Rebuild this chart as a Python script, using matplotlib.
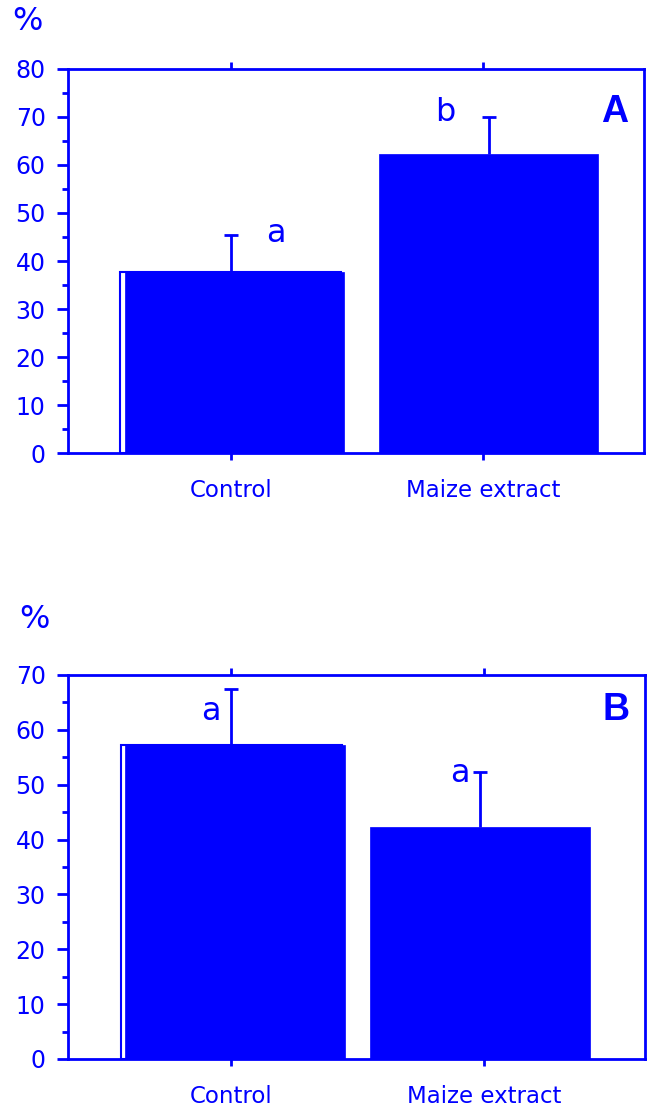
import numpy as np
import matplotlib
matplotlib.use("Agg")
import matplotlib.pyplot as plt
from matplotlib.ticker import MultipleLocator

BLUE = "#0000ff"

categories = ["Control", "Maize extract"]

# panel A
means_a = [37.7, 62.3]
errs_a = [7.7, 7.7]
letters_a = ["a", "b"]

# panel B
means_b = [57.2, 42.3]
errs_b = [10.2, 10.0]
letters_b = ["a", "a"]

fig = plt.figure(figsize=(6.47, 11.09), dpi=100)
plt.rcParams["font.family"] = "DejaVu Sans"

def panel(rect, means, errs, letters, ymax, tag, tag_y, shifts, letter_off):
    ax = fig.add_axes(rect)
    x = np.arange(len(means))
    xb = x + np.array(shifts)
    width = 0.872
    # hollow outline just behind the first bar
    ax.bar(x[0], means[0], 0.877, facecolor="white", edgecolor=BLUE,
           linewidth=1.5, zorder=2)
    ax.bar(xb, means, width, color=BLUE, edgecolor=BLUE, linewidth=0.5, zorder=3)
    ex = np.array([x[0], xb[1]])
    _, caps, _ = ax.errorbar(ex, means, yerr=[np.zeros(len(errs)), errs],
                             fmt="none", ecolor=BLUE, elinewidth=2, capsize=4.7,
                             capthick=2, zorder=4)
    # only the upper caps are wanted
    for c in caps:
        if np.allclose(c.get_ydata(), means):
            c.set_visible(False)
    for xi, m, e, s, (dx, dy) in zip(x, means, errs, letters, letter_off):
        ax.text(xi + dx, m + e + dy, s, color=BLUE, fontsize=23,
                ha="center", va="center")
    ax.text(0.95, tag_y, tag, transform=ax.transAxes, color=BLUE, fontsize=27,
            fontweight="bold", family="Liberation Sans", ha="center", va="center")

    ax.set_xlim(-0.647, 1.639)
    ax.set_ylim(0, ymax)
    ax.set_xticks(x)
    ax.set_xticklabels(categories, fontsize=16.5, color=BLUE)
    ax.yaxis.set_major_locator(MultipleLocator(10))
    ax.yaxis.set_minor_locator(MultipleLocator(5))
    ax.tick_params(axis="y", which="major", length=8, width=2, color=BLUE,
                   labelcolor=BLUE, labelsize=17, pad=8)
    ax.tick_params(axis="y", which="minor", length=4.3, width=2, color=BLUE)
    ax.tick_params(axis="x", which="major", length=5, width=2, color=BLUE,
                   top=True, pad=14)
    for sp in ax.spines.values():
        sp.set_color(BLUE)
        sp.set_linewidth(2)
    return ax

panel([0.105, 0.5915, 0.890, 0.3463], means_a, errs_a, letters_a, 80, "A", 0.888,
      [0.014, 0.023], [(0.18, 0.4), (-0.15, 1.0)])
panel([0.105, 0.0451, 0.892, 0.3463], means_b, errs_b, letters_b, 70, "B", 0.909,
      [0.014, -0.014], [(-0.08, -4.1), (-0.095, -0.2)])

fig.text(27 / 647, 1 - 21 / 1109, "%", color=BLUE, fontsize=23,
         ha="center", va="center")
fig.text(34 / 647, 1 - 619 / 1109, "%", color=BLUE, fontsize=23,
         ha="center", va="center")

fig.savefig("out.png", dpi=100)
